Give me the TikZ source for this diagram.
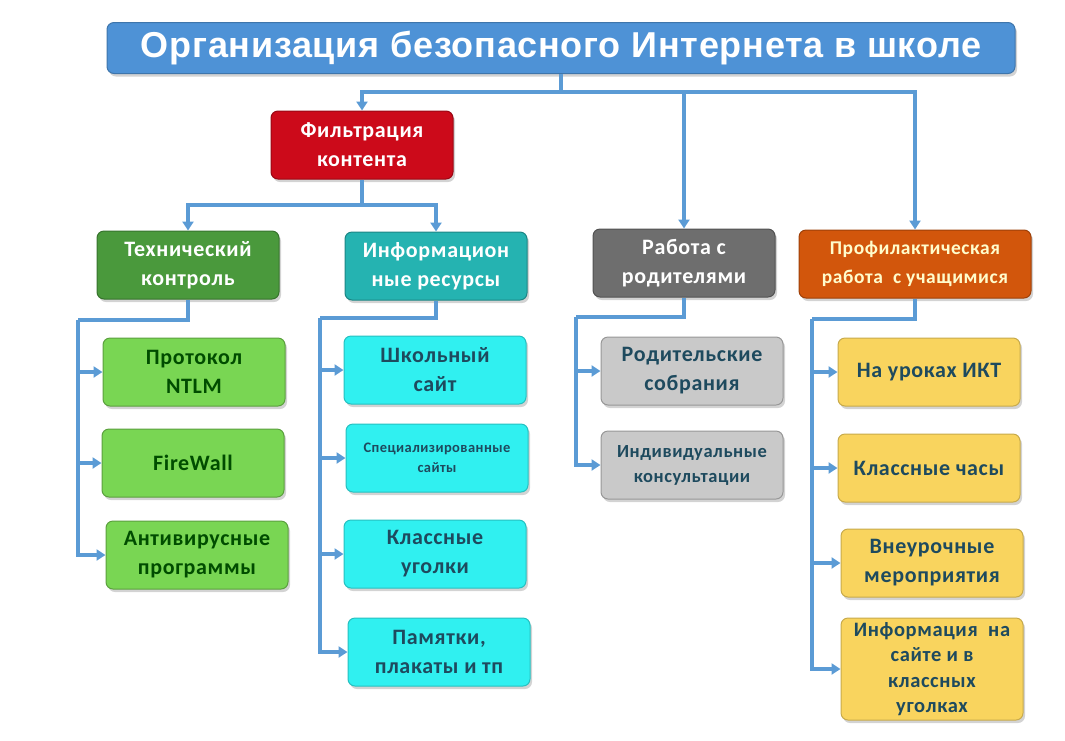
\documentclass[tikz,border=0pt]{standalone}
\usepackage{fontspec}
\setmainfont{Carlito}[LetterSpace=3]
\newfontfamily\titlefont{Liberation Sans}[LetterSpace=2]
\usepackage{tikz}
\usetikzlibrary{arrows.meta,shadows}

\definecolor{linkblue}{HTML}{5B9BD5}
\definecolor{titleblue}{HTML}{4E92D6}
\definecolor{filtred}{HTML}{CC0A1A}
\definecolor{techgreen}{HTML}{4A993C}
\definecolor{infoteal}{HTML}{25B3B1}
\definecolor{parentgrey}{HTML}{6E6E6E}
\definecolor{profrange}{HTML}{D2560C}
\definecolor{leafgreen}{HTML}{79D653}
\definecolor{leafcyan}{HTML}{30F0F0}
\definecolor{leafgrey}{HTML}{C9C9C9}
\definecolor{leafyellow}{HTML}{F9D45E}
\definecolor{ink}{HTML}{1E4A5E}

\begin{document}
\begin{tikzpicture}[x=1pt, y=-1pt, >={Triangle[length=9pt, width=11pt]},
	box/.style={rounded corners=7pt, minimum width=182pt, minimum height=68pt, align=center,
		font=\bfseries\fontsize{22}{29}\selectfont, line width=1pt, inner xsep=2pt,
		drop shadow={shadow xshift=2pt, shadow yshift=-3pt, opacity=0.35}},
	link/.style={linkblue, line width=3.5pt},
	arr/.style={link, ->}]
	\useasboundingbox (0,0) rectangle (1065,740);

	% top
	\node[box, minimum width=908pt, minimum height=51pt, fill=titleblue, draw=titleblue!80!black,
		text=white, font=\titlefont\bfseries\fontsize{36}{40}\selectfont] (title) at (561,48)
		{Организация безопасного Интернета в школе};

	% first level
	\node[box, fill=filtred, draw=filtred!75!black, text=white] (filt) at (362,145) {Фильтрация\\контента};
	\node[box, fill=parentgrey, draw=parentgrey!75!black, text=white] (parents) at (684,263) {Работа с\\родителями};
	\node[box, minimum width=232pt, fill=profrange, draw=profrange!75!black, text=yellow!20,
		font=\bfseries\fontsize{19.5}{29}\selectfont] (prof) at (915,264) {Профилактическая\\работа~ с учащимися};

	% second level
	\node[box, fill=techgreen, draw=techgreen!75!black, text=white] (tech) at (188,265) {Технический\\контроль};
	\node[box, fill=infoteal, draw=infoteal!75!black, text=white] (info) at (436,266) {Информацион\\ные ресурсы};

	% leaves: tech
	\node[box, fill=leafgreen, draw=leafgreen!75!black, text=green!30!black] (ntlm) at (194,372) {Протокол\\NTLM};
	\node[box, fill=leafgreen, draw=leafgreen!75!black, text=green!30!black] (fw) at (193,463) {FireWall};
	\node[box, fill=leafgreen, draw=leafgreen!75!black, text=green!30!black] (antivir) at (197,555) {Антивирусные\\программы};

	% leaves: info
	\node[box, fill=leafcyan, draw=leafcyan!80!black, text=ink] (site) at (435,370) {Школьный\\сайт};
	\node[box, fill=leafcyan, draw=leafcyan!80!black, text=ink,
		font=\bfseries\fontsize{14.5}{20}\selectfont] (spec) at (437,458) {Специализированные\\сайты};
	\node[box, fill=leafcyan, draw=leafcyan!80!black, text=ink] (corner) at (435,554) {Классные\\уголки};
	\node[box, fill=leafcyan, draw=leafcyan!80!black, text=ink] (memo) at (439,652) {Памятки,\\плакаты и тп};

	% leaves: parents
	\node[box, fill=leafgrey, draw=leafgrey!75!black, text=ink] (meet) at (692,371) {Родительские\\собрания};
	\node[box, fill=leafgrey, draw=leafgrey!75!black, text=ink,
		font=\bfseries\fontsize{18.5}{25}\selectfont] (consult) at (692,465) {Индивидуальные\\консультации};

	% leaves: prof
	\node[box, fill=leafyellow, draw=leafyellow!80!black, text=ink] (ict) at (929,372) {На уроках ИКТ};
	\node[box, fill=leafyellow, draw=leafyellow!80!black, text=ink] (hours) at (929,468) {Классные часы};
	\node[box, fill=leafyellow, draw=leafyellow!80!black, text=ink] (events) at (932,563) {Внеурочные\\мероприятия};
	\node[box, minimum height=102pt, fill=leafyellow, draw=leafyellow!80!black, text=ink,
		font=\bfseries\fontsize{20.5}{25.5}\selectfont] (web) at (932,669) {Информация~ на\\сайте и в\\классных\\уголках};

	% bus points
	\coordinate (topbus) at (561,92);
	\coordinate (filtbus) at (362,205);
	\coordinate (techbus) at (78,320);
	\coordinate (infobus) at (320,318);
	\coordinate (parbus) at (576,317);
	\coordinate (profbus) at (812,319);

	% connectors
	\draw[link] (title.south) -- (topbus);
	\draw[arr] (topbus) -| (filt.north);
	\draw[arr] (topbus) -| (parents.north);
	\draw[arr] (topbus) -| (prof.north);
	\draw[link] (filt.south) -- (filtbus);
	\draw[arr] (filtbus) -| (tech.north);
	\draw[arr] (filtbus) -| (info.north);

	\draw[link] (tech.south) |- (techbus);
	\foreach \leaf in {ntlm, fw, antivir}
		\draw[arr] (techbus) |- (\leaf.west);
	\draw[link] (info.south) |- (infobus);
	\foreach \leaf in {site, spec, corner, memo}
		\draw[arr] (infobus) |- (\leaf.west);
	\draw[link] (parents.south) |- (parbus);
	\foreach \leaf in {meet, consult}
		\draw[arr] (parbus) |- (\leaf.west);
	\draw[link] (prof.south) |- (profbus);
	\foreach \leaf in {ict, hours, events, web}
		\draw[arr] (profbus) |- (\leaf.west);
\end{tikzpicture}
\end{document}
